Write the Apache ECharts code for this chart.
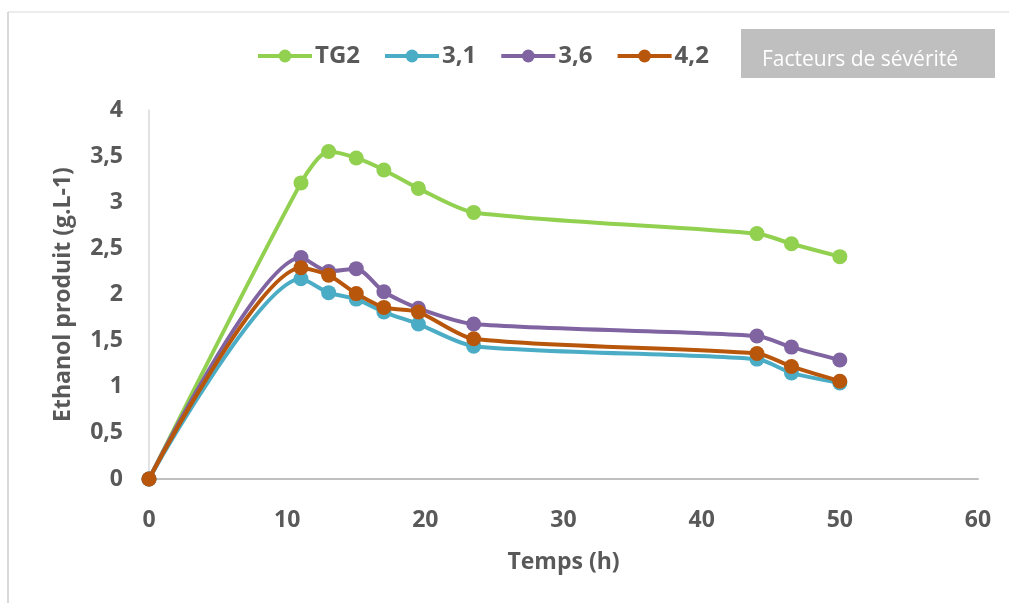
<!DOCTYPE html>
<html><head><meta charset="utf-8">
<script src="https://cdn.jsdelivr.net/npm/echarts@6/dist/echarts.min.js"></script>
<style>html,body{margin:0;padding:0;background:#fff}#c{width:1009px;height:603px}</style>
</head><body><div id="c"></div>
<script>
const temps = [0, 11, 13, 15, 17, 19.5, 23.5, 44, 46.5, 50];
const seriesNames = ['TG2', '3,1', '3,6', '4,2'];
const tg2 = [0, 3.21, 3.55, 3.48, 3.35, 3.15, 2.89, 2.66, 2.55, 2.41];
const s31 = [0, 2.17, 2.02, 1.95, 1.81, 1.68, 1.44, 1.30, 1.15, 1.04];
const s36 = [0, 2.40, 2.25, 2.28, 2.03, 1.85, 1.68, 1.55, 1.43, 1.29];
const s42 = [0, 2.29, 2.21, 2.01, 1.86, 1.81, 1.52, 1.36, 1.22, 1.06];
const colors = ['#92d050', '#4bacc6', '#8064a2', '#b8560c'];
const values = [tg2, s31, s36, s42];

const font = '"Open Sans", "DejaVu Sans", sans-serif';
const chart = echarts.init(document.getElementById('c'));
chart.setOption({
  animation: false,
  backgroundColor: '#fff',
  textStyle: {fontFamily: font},
  legend: {
    left: 251, top: 39, itemWidth: 54, itemHeight: 16, itemGap: 23,
    lineStyle: {width: 4},
    textStyle: {fontSize: 24, fontWeight: 'bold', color: '#595959', fontFamily: font, padding: [0,0,0,-2]},
    data: seriesNames
  },
  grid: {left: 149, right: 31, top: 110, bottom: 124},
  xAxis: {
    type: 'value', min: 0, max: 60, interval: 10,
    axisLine: {show: true, lineStyle: {color: '#bfbfbf', width: 2}},
    axisTick: {show: false}, splitLine: {show: false},
    axisLabel: {fontSize: 23, fontWeight: 'bold', color: '#595959', margin: 30, fontFamily: font},
    name: 'Temps (h)', nameLocation: 'middle', nameGap: 72,
    nameTextStyle: {fontSize: 23, fontWeight: 'bold', color: '#595959', fontFamily: font}
  },
  yAxis: {
    type: 'value', min: 0, max: 4, interval: 0.5,
    axisLine: {show: true, lineStyle: {color: '#d9d9d9', width: 1.5}},
    axisTick: {show: false}, splitLine: {show: false},
    axisLabel: {fontSize: 23, fontWeight: 'bold', color: '#595959', margin: 26, fontFamily: font,
      formatter: v => String(v).replace('.', ',')},
    name: 'Ethanol produit (g.L-1)', nameLocation: 'middle', nameGap: 74,
    nameTextStyle: {fontSize: 23, fontWeight: 'bold', color: '#595959', fontFamily: font}
  },
  series: seriesNames.map((n, i) => ({
    name: n, type: 'line', smooth: 0.25,
    data: temps.map((t, j) => [t, values[i][j]]),
    symbol: 'circle', symbolSize: 15,
    lineStyle: {width: 4, color: colors[i]},
    itemStyle: {color: colors[i]},
    z: 2 + i
  })),
  graphic: [
    {type: 'line', shape: {x1: 8, y1: 12, x2: 8, y2: 603}, style: {stroke: '#d9d9d9', lineWidth: 2}},
    {type: 'line', shape: {x1: 8, y1: 12, x2: 1009, y2: 12}, style: {stroke: '#d9d9d9', lineWidth: 1}},
    {type: 'rect', shape: {x: 741, y: 29, width: 254, height: 49}, style: {fill: '#bfbfbf'}},
    {type: 'text', x: 860, y: 60, style: {text: 'Facteurs de sévérité', fill: '#ffffff', fontSize: 21, fontFamily: font, align: 'center', verticalAlign: 'middle'}}
  ]
});
</script></body></html>
